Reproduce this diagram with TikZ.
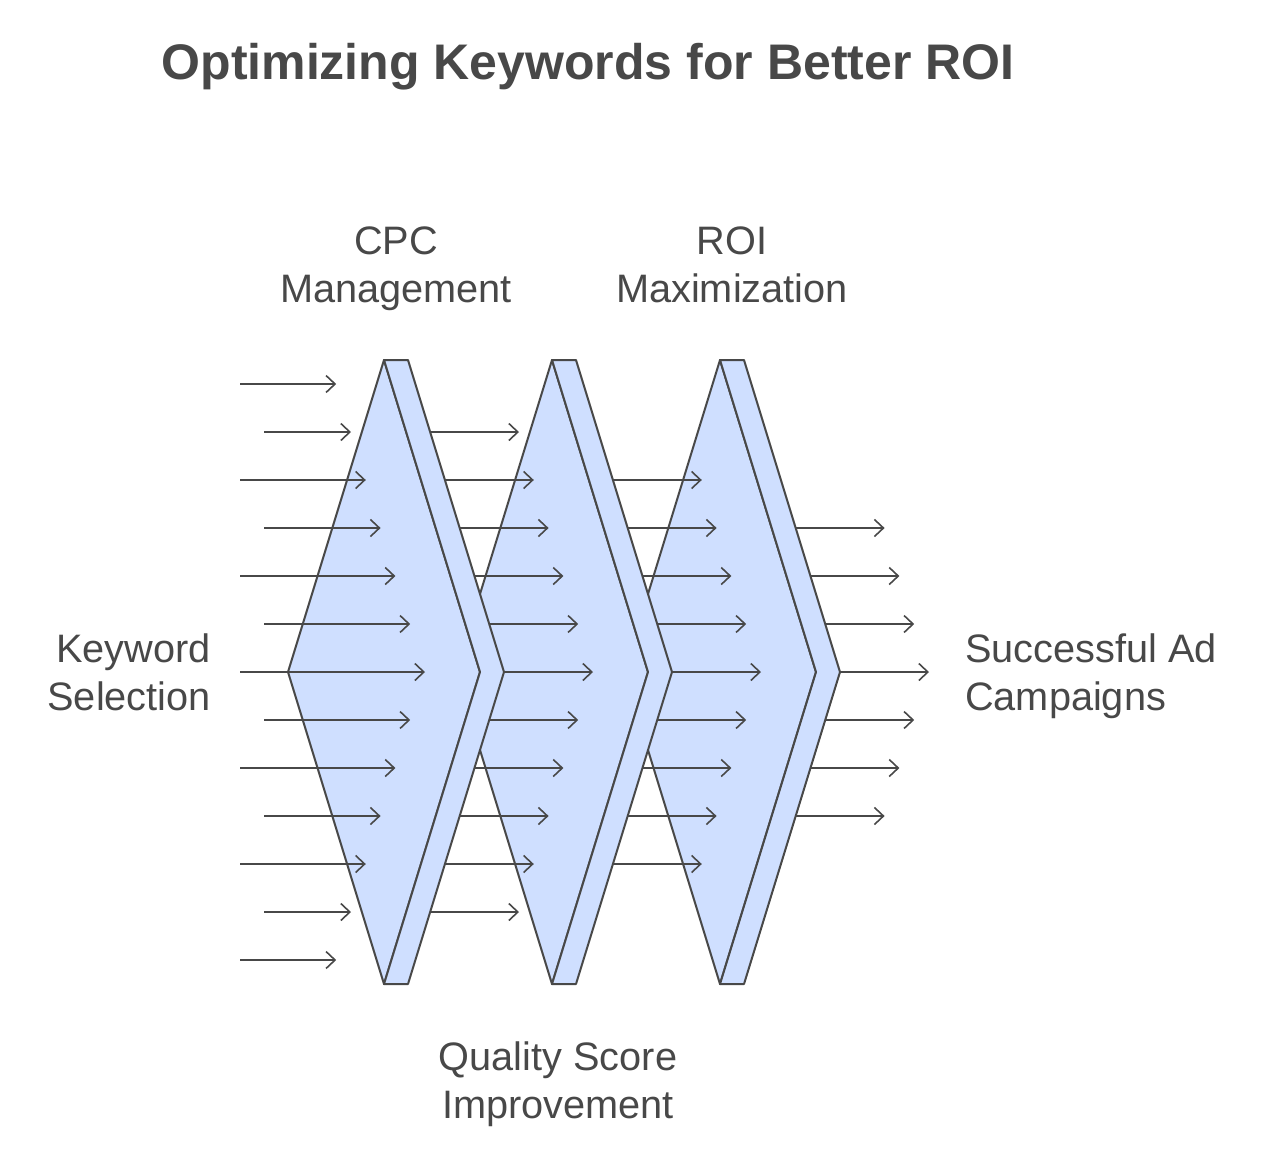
\documentclass[tikz,border=0pt]{standalone}
\usepackage{fontspec}
\setmainfont{Liberation Sans}
\usepackage{tikz}
\usetikzlibrary{arrows.meta}
\definecolor{lensblue}{RGB}{207,223,255}
\definecolor{inkgray}{RGB}{72,72,72}

\begin{document}
\begin{tikzpicture}[
  x=1pt, y=-1pt,
  lens/.style={draw=inkgray, fill=lensblue, line width=2pt, line join=round},
  arr/.style={-{Straight Barb[length=9pt,width=17pt]}, draw=inkgray, line width=1.6pt},
  lbl/.style={font=\fontsize{39.7}{48}\selectfont, text=inkgray, inner sep=0pt},
  ttl/.style={font=\bfseries\fontsize{50}{60}\selectfont, text=inkgray, inner sep=0pt}
]
\useasboundingbox (0,0) rectangle (1272,1152);

% lenses, drawn back to front
\foreach \x in {720,552,384}{
  \draw[lens] (\x-96,672) -- (\x,360) -- (\x+96,672) -- (\x,984) -- cycle;
  \draw[lens] (\x,360) -- (\x+24,360) -- (\x+120,672) -- (\x+24,984) -- (\x,984) -- (\x+96,672) -- cycle;
}

% incoming rays
\foreach \i in {0,...,12}{
  \pgfmathsetmacro{\d}{14.8*abs(\i-6)}
  \pgfmathsetmacro{\y}{384+48*\i}
  \pgfmathsetmacro{\s}{ifthenelse(isodd(\i),264,240)}
  \draw[arr] (\s,\y) -- (425-\d,\y);
}

% rays leaving each lens
\foreach \k in {1,2,3}{
  \pgfmathtruncatemacro{\last}{12-\k}
  \foreach \i in {\k,...,\last}{
    \pgfmathsetmacro{\d}{14.8*abs(\i-6)}
    \pgfmathsetmacro{\y}{384+48*\i}
    \pgfmathsetmacro{\xs}{336+168*\k-\d}
    \draw[arr] (\xs,\y) -- (\xs+89,\y);
  }
}

\node[ttl, anchor=base] (title) at (588,79) {Optimizing Keywords for Better ROI};
\node[lbl, align=center] (cpc) at (396,268.4) {\strut CPC\\\strut Management};
\node[lbl, align=center] (roi) at (732,268.4) {\strut ROI\\\strut Maximization};
\node[lbl, align=right, anchor=east] (kw) at (211,676.4) {\strut Keyword\\\strut Selection};
\node[lbl, align=left, anchor=west] (ads) at (965,676.4) {\strut Successful Ad\\\strut Campaigns};
\node[lbl, align=center] (qs) at (558,1084.4) {\strut Quality Score\\\strut Improvement};
\end{tikzpicture}
\end{document}
